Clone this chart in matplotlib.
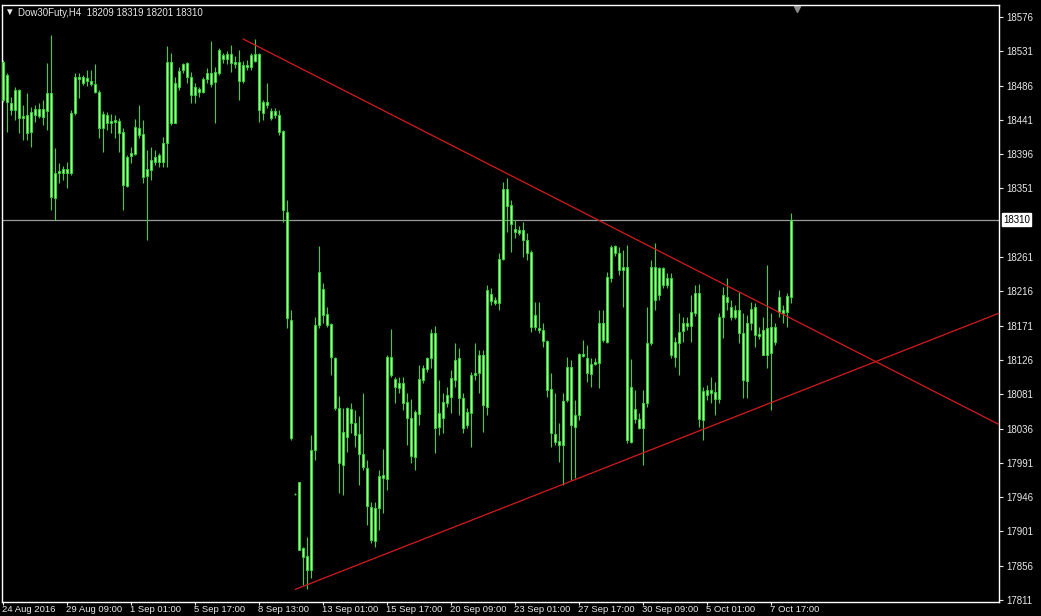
import matplotlib
matplotlib.use("Agg")
import matplotlib.pyplot as plt
import matplotlib.transforms as mtransforms

plt.rcParams['font.family'] = ['Liberation Sans', 'DejaVu Sans']

symbol = "Dow30Futy,H4"
last_ohlc = [18209, 18319, 18201, 18310]

# H4 candles (left to right)
opens = [
    18517, 18464, 18463, 18454, 18480, 18443, 18447, 18425, 18447, 18455,
    18445, 18453, 18476, 18338, 18371, 18371, 18377, 18371, 18450, 18497,
    18497, 18492, 18492, 18488, 18478, 18430, 18447, 18437, 18441, 18440,
    18425, 18354, 18394, 18396, 18430, 18422, 18367, 18375, 18386, 18395,
    18386, 18411, 18517, 18437, 18484, 18506, 18516, 18497, 18474, 18481,
    18478, 18494, 18503, 18491, 18503, 18526, 18521, 18528, 18514, 18517,
    18492, 18513, 18510, 18518, 18527, 18450, 18464, 18452, 18448, 18448,
    18426, 18320, 18178, 17950, 17966, 17879, 17869, 17850, 18008, 18172,
    18219, 18186, 18173, 18129, 18063, 17988, 18025, 18062, 18043, 18029,
    18003, 17984, 17933, 17888, 17932, 17971, 17970, 18130, 18101, 18089,
    18096, 18071, 18050, 17999, 18055, 18100, 18114, 18128, 18161, 18038,
    18050, 18070, 18077, 18100, 18128, 18076, 18041, 18056, 18106, 18109,
    18132, 18064, 18213, 18205, 18201, 18258, 18350, 18329, 18298, 18293,
    18297, 18283, 18268, 18169, 18168, 18165, 18151, 18088, 18029, 18020,
    18014, 18073, 18117, 18038, 18054, 18134, 18128, 18108, 18121, 18122,
    18174, 18150, 18233, 18276, 18266, 18244, 18248, 18018, 18062, 18049,
    18037, 18070, 18148, 18248, 18211, 18247, 18224, 18234, 18130, 18148,
    18164, 18174, 18170, 18188, 18214, 18047, 18080, 18087, 18084, 18075,
    18182, 18209, 18195, 18182, 18192, 18161, 18099, 18174, 18195, 18157,
    18165, 18133, 18169, 18150, 18189, 18192, 18189, 18209,
]
highs = [
    18520, 18503, 18471, 18484, 18481, 18460, 18476, 18458, 18460, 18463,
    18467, 18516, 18552, 18404, 18384, 18380, 18386, 18454, 18503, 18503,
    18500, 18506, 18506, 18514, 18480, 18453, 18451, 18449, 18447, 18444,
    18430, 18395, 18405, 18442, 18460, 18441, 18401, 18405, 18401, 18398,
    18419, 18538, 18529, 18497, 18510, 18516, 18517, 18504, 18489, 18484,
    18497, 18509, 18545, 18510, 18535, 18529, 18531, 18539, 18525, 18533,
    18518, 18520, 18529, 18547, 18529, 18467, 18489, 18456, 18456, 18454,
    18428, 18336, 18192, 17951, 17966, 17880, 17894, 18028, 18182, 18276,
    18227, 18195, 18174, 18130, 18079, 18063, 18064, 18070, 18060, 18052,
    18083, 17995, 17940, 17940, 17981, 18009, 18132, 18167, 18104, 18104,
    18104, 18083, 18075, 18060, 18119, 18119, 18130, 18167, 18170, 18100,
    18083, 18091, 18113, 18148, 18142, 18083, 18063, 18110, 18148, 18139,
    18139, 18224, 18220, 18208, 18266, 18359, 18365, 18336, 18310, 18302,
    18307, 18292, 18270, 18202, 18202, 18174, 18152, 18109, 18083, 18043,
    18083, 18130, 18126, 18073, 18135, 18152, 18145, 18128, 18128, 18192,
    18192, 18241, 18277, 18277, 18274, 18270, 18277, 18127, 18087, 18057,
    18087, 18196, 18257, 18280, 18248, 18248, 18240, 18240, 18156, 18188,
    18182, 18182, 18211, 18224, 18226, 18090, 18093, 18103, 18097, 18188,
    18222, 18234, 18205, 18198, 18215, 18188, 18185, 18202, 18201, 18169,
    18182, 18251, 18188, 18174, 18218, 18198, 18214, 18319,
]
lows = [
    18464, 18425, 18447, 18441, 18424, 18415, 18415, 18405, 18438, 18443,
    18434, 18428, 18323, 18310, 18358, 18362, 18352, 18369, 18447, 18470,
    18487, 18486, 18486, 18476, 18417, 18399, 18428, 18424, 18417, 18399,
    18323, 18353, 18384, 18395, 18417, 18358, 18283, 18362, 18382, 18379,
    18379, 18379, 18434, 18437, 18480, 18502, 18489, 18463, 18463, 18471,
    18476, 18489, 18484, 18437, 18500, 18516, 18514, 18504, 18509, 18467,
    18490, 18506, 18506, 18517, 18438, 18441, 18457, 18441, 18444, 18421,
    18307, 18168, 18021, 17949, 17877, 17831, 17825, 17840, 17995, 18168,
    18174, 18169, 18106, 18060, 17952, 17949, 18005, 18030, 18012, 17962,
    17982, 17909, 17886, 17880, 17903, 17925, 17955, 18104, 18070, 18083,
    18060, 18014, 17991, 17982, 18041, 18096, 18110, 18115, 18004, 18028,
    18030, 18064, 18056, 18091, 18054, 18030, 18037, 18012, 18100, 18083,
    18031, 18054, 18198, 18198, 18192, 18257, 18294, 18268, 18286, 18290,
    18261, 18257, 18163, 18165, 18161, 18143, 18077, 18012, 18014, 17992,
    17962, 18071, 17968, 17971, 18047, 18130, 18097, 18091, 18119, 18089,
    18150, 18148, 18228, 18263, 18237, 18196, 18017, 18017, 18043, 18035,
    17988, 18064, 18146, 18192, 18205, 18220, 18220, 18128, 18117, 18106,
    18150, 18165, 18150, 18184, 18038, 18021, 18073, 18070, 18054, 18070,
    18155, 18192, 18179, 18180, 18148, 18076, 18076, 18165, 18143, 18154,
    18132, 18115, 18060, 18146, 18182, 18174, 18169, 18201,
]
closes = [
    18467, 18500, 18454, 18480, 18443, 18446, 18424, 18451, 18455, 18446,
    18455, 18476, 18340, 18371, 18374, 18377, 18371, 18450, 18497, 18494,
    18489, 18496, 18488, 18478, 18430, 18449, 18437, 18440, 18438, 18424,
    18356, 18392, 18398, 18432, 18421, 18366, 18377, 18388, 18392, 18386,
    18411, 18517, 18437, 18489, 18505, 18514, 18497, 18474, 18484, 18478,
    18494, 18503, 18488, 18504, 18533, 18521, 18528, 18516, 18517, 18492,
    18513, 18510, 18526, 18527, 18454, 18464, 18460, 18443, 18452, 18425,
    18323, 18181, 18024, 17950, 17877, 17867, 17850, 18008, 18172, 18241,
    18185, 18172, 18130, 18063, 17991, 18031, 18063, 18043, 18027, 18003,
    17986, 17934, 17890, 17932, 17974, 17975, 18130, 18106, 18091, 18096,
    18070, 18050, 18000, 18058, 18101, 18115, 18128, 18161, 18037, 18056,
    18071, 18080, 18102, 18126, 18076, 18037, 18058, 18106, 18109, 18132,
    18067, 18218, 18203, 18201, 18258, 18350, 18328, 18304, 18294, 18297,
    18283, 18266, 18169, 18185, 18165, 18151, 18087, 18030, 18018, 18014,
    18072, 18117, 18041, 18054, 18134, 18131, 18109, 18121, 18123, 18174,
    18152, 18235, 18274, 18266, 18244, 18248, 18021, 18090, 18049, 18037,
    18070, 18148, 18248, 18205, 18247, 18224, 18234, 18132, 18150, 18163,
    18174, 18170, 18189, 18214, 18049, 18085, 18087, 18083, 18075, 18182,
    18211, 18202, 18182, 18192, 18161, 18100, 18174, 18193, 18159, 18160,
    18133, 18168, 18135, 18169, 18209, 18188, 18210, 18310,
]

# one time label every 16 bars
time_labels = ["24 Aug 2016", "29 Aug 09:00", "1 Sep 01:00", "5 Sep 17:00",
               "8 Sep 13:00", "13 Sep 01:00", "15 Sep 17:00", "20 Sep 09:00",
               "23 Sep 01:00", "27 Sep 17:00", "30 Sep 09:00", "5 Oct 01:00",
               "7 Oct 17:00"]
label_step = 16

price_ticks = [18576, 18531, 18486, 18441, 18396, 18351, 18261, 18216, 18171,
               18126, 18081, 18036, 17991, 17946, 17901, 17856, 17811]
bid = 18310

# trend lines as (bar, price) anchors, drawn as rays to the right
upper_trend = [(60, 18547), (190, 18199)]
lower_trend = [(73, 17825), (190, 18066)]

BG = "black"
FG = "#e8e8e8"
CANDLE_EDGE = "#36d636"
CANDLE_FACE = "#9ef88c"
TREND = "#d41c1c"

fig = plt.figure(figsize=(10.41, 6.16), dpi=100, facecolor=BG)
ax = fig.add_axes([0.0024, 0.0227, 0.9576, 0.9692], facecolor=BG)

x_right = 249.0
ax.set_xlim(-0.2, x_right)
ax.set_ylim(17808.4, 18591.7)

# candles
bars = list(range(len(closes)))
ax.vlines(bars, lows, highs, color=CANDLE_EDGE, lw=0.8, zorder=2)
bottoms = [min(o, c) for o, c in zip(opens, closes)]
heights = [abs(c - o) for o, c in zip(opens, closes)]
ax.bar(bars, heights, bottom=bottoms, width=0.5, color=CANDLE_FACE,
       edgecolor=CANDLE_EDGE, linewidth=0.7, zorder=3)

# bid line
ax.axhline(bid, color="#9a9a9a", lw=0.9, zorder=1)

# trend lines
for (x1, p1), (x2, p2) in (upper_trend, lower_trend):
    slope = (p2 - p1) / (x2 - x1)
    ax.plot([x1, x_right], [p1, p1 + slope * (x_right - x1)],
            color=TREND, lw=0.9, zorder=4)

# axes frame and ticks
for sp in ax.spines.values():
    sp.set_color("white")
    sp.set_linewidth(1.0)

ax.yaxis.tick_right()
ax.set_yticks(price_ticks)
ax.set_yticklabels([str(p) for p in price_ticks])
ax.tick_params(axis="y", colors=FG, length=3, width=0.8, pad=2, labelsize=7)

ax.set_xticks(bars[::label_step])
ax.set_xticklabels(time_labels)
ax.tick_params(axis="x", colors=FG, length=2, width=0.8, pad=0, labelsize=6.8)
shift = mtransforms.ScaledTranslation(-1 / 100, 0, fig.dpi_scale_trans)
for lbl in ax.get_xticklabels():
    lbl.set_ha("left")
    lbl.set_transform(lbl.get_transform() + shift)

# price box for the bid on the right scale
yx = mtransforms.blended_transform_factory(ax.transAxes, ax.transData)
ax.text(1.0038, bid, str(bid), transform=yx, ha="left", va="center",
        fontsize=7, color="black", clip_on=False,
        bbox=dict(boxstyle="square,pad=0.15", fc="white", ec="white"))

# chart shift marker at top
xa = mtransforms.blended_transform_factory(ax.transData, ax.transAxes)
ax.plot([len(closes) + 0.5], [0.994], marker="v", ms=5, color="#8c8c8c",
        transform=xa, clip_on=False)

# header
fig.text(9 / 1041, 1 - 12 / 616, "\u25bc", ha="center", va="center",
         fontsize=7, color=FG)
fig.text(18 / 1041, 1 - 13 / 616,
         symbol + "  " + " ".join(str(v) for v in last_ohlc),
         ha="left", va="center", fontsize=7, color=FG)

fig.savefig("out.png", dpi=100, facecolor=BG)
